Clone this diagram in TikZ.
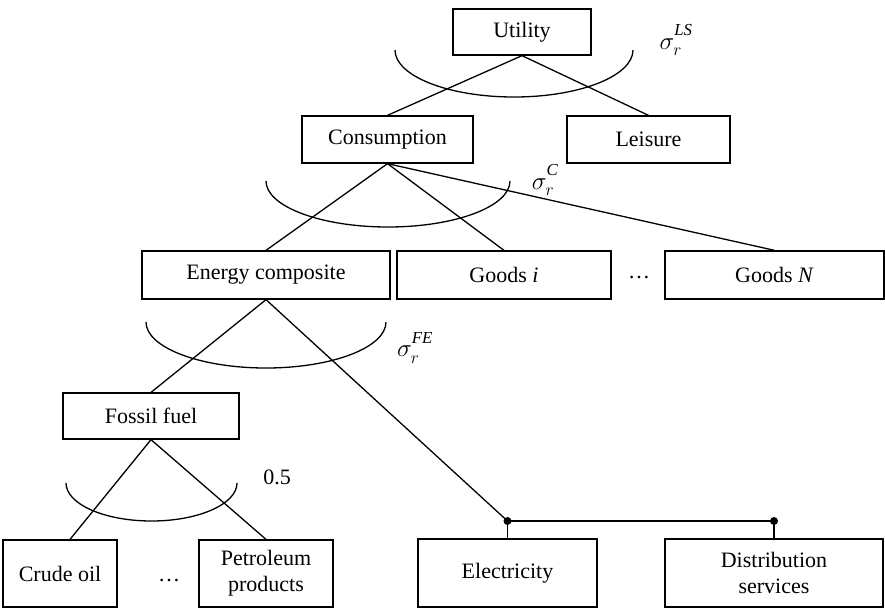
\documentclass[tikz,border=0pt]{standalone}
\usepackage{fontspec}
\setmainfont{Liberation Serif}
\newcommand{\elsup}[1]{^{\raisebox{4pt}{$\scriptstyle\mathit{#1}$}}}
\begin{document}
\begin{tikzpicture}[x=1pt,y=-1pt,
  line width=1.3pt,
  every node/.style={font=\fontsize{22}{25}\selectfont},
  box/.style={draw, rectangle, inner sep=0pt, align=center},
  elast/.style={font=\fontsize{24}{26}\selectfont},
  junction/.style={circle, fill=black, inner sep=0pt, minimum size=8pt},
  nest/.style={line width=1.3pt}]
\useasboundingbox (0,0) rectangle (885,608);

% tree boxes
\node[box, minimum width=138pt, minimum height=46pt] (util)   at (522,32)    {Utility};
\node[box, minimum width=171pt, minimum height=47pt] (cons)   at (387.5,139.5) {Consumption};
\node[box, minimum width=163pt, minimum height=47pt] (leis)   at (648.5,139.5) {Leisure};
\node[box, minimum width=248pt, minimum height=48pt] (energy) at (266,275)   {Energy composite};
\node[box, minimum width=214pt, minimum height=48pt] (goodsi) at (504,275)   {Goods \textit{i}};
\node[box, minimum width=219pt, minimum height=48pt] (goodsN) at (774.5,275) {Goods \textit{N}};
\node[box, minimum width=176pt, minimum height=46pt] (fossil) at (151,416)   {Fossil fuel};
\node[box, minimum width=114pt, minimum height=67pt] (crude)  at (60,573.5)  {Crude oil};
\node[box, minimum width=134pt, minimum height=67pt] (petro)  at (266,573.5) {Petroleum\\[1pt]products};
\node[box, minimum width=179pt, minimum height=68pt] (elec)   at (507.5,573) {Electricity};
\node[box, minimum width=218pt, minimum height=68pt] (dist)   at (774,573)   {Distribution\\[1pt]services};

% ellipses between siblings
\node (dotsA) at (639,278) {\dots};
\node (dotsB) at (169,581) {\dots};

% branches
\draw (util.south) -- (cons.north);
\draw (util.south) -- (leis.north);
\draw (cons.south) -- (energy.north);
\draw (cons.south) -- (goodsi.north);
\draw (cons.south) -- (goodsN.north);
\draw (energy.south) -- (fossil.north);
\coordinate (crudetop) at ([xshift=10pt]crude.north);
\draw (fossil.south) -- (crudetop);
\draw (fossil.south) -- (petro.north);

% electricity and distribution joint
\node[junction] (j1) at (507.5,521) {};
\node[junction] (j2) at (774,521) {};
\draw (energy.south) -- (j1.center);
\draw (j1.center) -- (j2.center);
\draw (j1.center) -- (elec.north);
\draw (j2.center) -- (dist.north);

% substitution elasticity arcs
\draw[nest] (395,50)  arc[start angle=180, end angle=360, x radius=119pt, y radius=47pt];
\draw[nest] (266,181) arc[start angle=180, end angle=360, x radius=122pt, y radius=46pt];
\draw[nest] (146,322) arc[start angle=180, end angle=360, x radius=120pt, y radius=46pt];
\draw[nest] (66,483)  arc[start angle=180, end angle=360, x radius=85.5pt, y radius=38pt];

% elasticity labels
\node[elast] (sLS) at (676,40)  {$\sigma_r\elsup{LS}$};
\node[elast] (sC)  at (545,180) {$\sigma_r\elsup{C}$};
\node[elast] (sFE) at (415,348) {$\sigma_r\elsup{FE}$};
\node (s05) at (277,477) {0.5};
\end{tikzpicture}
\end{document}
